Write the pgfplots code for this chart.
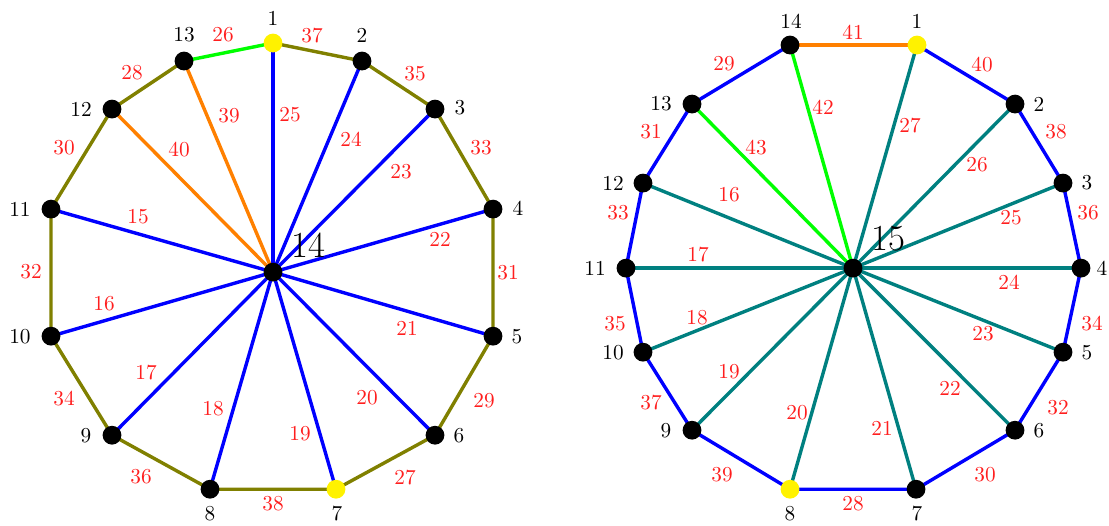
\documentclass[border=0pt]{standalone}
\usepackage{pgfplots}
\pgfplotsset{compat=1.18}
\definecolor{myolive}{RGB}{128,128,0}
\definecolor{myteal}{RGB}{0,128,128}
\definecolor{mygreen}{RGB}{0,255,0}
\definecolor{myorange}{RGB}{255,128,0}
\definecolor{myred}{RGB}{255,30,30}
\tikzset{el/.style={font=\normalsize, text=myred, inner sep=0pt},
  vl/.style={font=\normalsize, text=black, inner sep=0pt}}
\begin{document}
\begin{tikzpicture}
\begin{axis}[scale only axis, width=521pt, height=246.75pt,
  xmin=0, xmax=1109, ymin=0, ymax=525, y dir=reverse,
  hide axis, clip=false,
  every axis plot/.append style={line width=1.6pt}]
\path (rel axis cs:0,0) rectangle (rel axis cs:1,1);
% ---------- LEFT GRAPH (center 14) ----------
% spokes
\addplot[blue] coordinates {(273,272) (273,43)};
\addplot[blue] coordinates {(273,272) (362,61)};
\addplot[blue] coordinates {(273,272) (435,109)};
\addplot[blue] coordinates {(273,272) (493,209)};
\addplot[blue] coordinates {(273,272) (493,336)};
\addplot[blue] coordinates {(273,272) (435,435)};
\addplot[blue] coordinates {(273,272) (336,489)};
\addplot[blue] coordinates {(273,272) (210,489)};
\addplot[blue] coordinates {(273,272) (112,435)};
\addplot[blue] coordinates {(273,272) (51,336)};
\addplot[blue] coordinates {(273,272) (51,209)};
\addplot[myorange] coordinates {(273,272) (112,109)};
\addplot[myorange] coordinates {(273,272) (184,61)};
% rim
\addplot[myolive] coordinates {(273,43) (362,61) (435,109) (493,209) (493,336) (435,435) (336,489) (210,489) (112,435) (51,336) (51,209) (112,109) (184,61)};
\addplot[mygreen] coordinates {(184,61) (273,43)};
% vertices
\addplot[only marks, mark=*, mark size=3.6pt, black, mark options={fill=black, draw=black}] coordinates {(362,61) (435,109) (493,209) (493,336) (435,435) (210,489) (112,435) (51,336) (51,209) (112,109) (184,61) (273,272)};
\addplot[only marks, mark=*, mark size=3.6pt, yellow, mark options={fill=yellow, draw=yellow}] coordinates {(273,43) (336,489)};
% vertex labels
\node[vl] at (axis cs:273,18) {1};
\node[vl] at (axis cs:362,35) {2};
\node[vl] at (axis cs:460,108) {3};
\node[vl] at (axis cs:518,208) {4};
\node[vl] at (axis cs:517,336) {5};
\node[vl] at (axis cs:459,435) {6};
\node[vl] at (axis cs:337,513) {7};
\node[vl] at (axis cs:210,513) {8};
\node[vl] at (axis cs:86,435) {9};
\node[vl] at (axis cs:20,336) {10};
\node[vl] at (axis cs:20,209) {11};
\node[vl] at (axis cs:81,109) {12};
\node[vl] at (axis cs:184,35) {13};
\node[vl, font=\LARGE] at (axis cs:308,245) {14};
% edge labels
\node[el] at (axis cs:223,35) {26};
\node[el] at (axis cs:312,36) {37};
\node[el] at (axis cs:415,74) {35};
\node[el] at (axis cs:481,148) {33};
\node[el] at (axis cs:508,273) {31};
\node[el] at (axis cs:484,400) {29};
\node[el] at (axis cs:405,477) {27};
\node[el] at (axis cs:273,503) {38};
\node[el] at (axis cs:141,476) {36};
\node[el] at (axis cs:64,398) {34};
\node[el] at (axis cs:31,272) {32};
\node[el] at (axis cs:64,148) {30};
\node[el] at (axis cs:132,73) {28};
\node[el] at (axis cs:290,115) {25};
\node[el] at (axis cs:351,139) {24};
\node[el] at (axis cs:401,172) {23};
\node[el] at (axis cs:440,239) {22};
\node[el] at (axis cs:407,328) {21};
\node[el] at (axis cs:367,397) {20};
\node[el] at (axis cs:300,433) {19};
\node[el] at (axis cs:213,408) {18};
\node[el] at (axis cs:146,372) {17};
\node[el] at (axis cs:104,304) {16};
\node[el] at (axis cs:138,217) {15};
\node[el] at (axis cs:179,149) {40};
\node[el] at (axis cs:229,116) {39};
% ---------- RIGHT GRAPH (center 15) ----------
\addplot[myteal] coordinates {(853,268) (917,45)};
\addplot[myteal] coordinates {(853,268) (1015,104)};
\addplot[myteal] coordinates {(853,268) (1063,183)};
\addplot[myteal] coordinates {(853,268) (1081,268)};
\addplot[myteal] coordinates {(853,268) (1063,352)};
\addplot[myteal] coordinates {(853,268) (1015,430)};
\addplot[myteal] coordinates {(853,268) (916,489)};
\addplot[myteal] coordinates {(853,268) (790,489)};
\addplot[myteal] coordinates {(853,268) (692,430)};
\addplot[myteal] coordinates {(853,268) (643,352)};
\addplot[myteal] coordinates {(853,268) (626,268)};
\addplot[myteal] coordinates {(853,268) (643,183)};
\addplot[mygreen] coordinates {(853,268) (692,104)};
\addplot[mygreen] coordinates {(853,268) (790,45)};
\addplot[blue] coordinates {(917,45) (1015,104) (1063,183) (1081,268) (1063,352) (1015,430) (916,489) (790,489) (692,430) (643,352) (626,268) (643,183) (692,104) (790,45)};
\addplot[myorange] coordinates {(790,45) (917,45)};
\addplot[only marks, mark=*, mark size=3.6pt, black, mark options={fill=black, draw=black}] coordinates {(1015,104) (1063,183) (1081,268) (1063,352) (1015,430) (916,489) (692,430) (643,352) (626,268) (643,183) (692,104) (790,45) (853,268)};
\addplot[only marks, mark=*, mark size=3.6pt, yellow, mark options={fill=yellow, draw=yellow}] coordinates {(917,45) (790,489)};
\node[vl] at (axis cs:917,21) {1};
\node[vl] at (axis cs:1039,104) {2};
\node[vl] at (axis cs:1087,183) {3};
\node[vl] at (axis cs:1102,268) {4};
\node[vl] at (axis cs:1087,352) {5};
\node[vl] at (axis cs:1039,430) {6};
\node[vl] at (axis cs:917,513) {7};
\node[vl] at (axis cs:790,513) {8};
\node[vl] at (axis cs:666,430) {9};
\node[vl] at (axis cs:613,352) {10};
\node[vl] at (axis cs:595,268) {11};
\node[vl] at (axis cs:613,183) {12};
\node[vl] at (axis cs:661,104) {13};
\node[vl] at (axis cs:791,21) {14};
\node[vl, font=\LARGE] at (axis cs:888,239) {15};
\node[el] at (axis cs:853,32) {41};
\node[el] at (axis cs:982,64) {40};
\node[el] at (axis cs:1056,132) {38};
\node[el] at (axis cs:1088,213) {36};
\node[el] at (axis cs:1092,323) {34};
\node[el] at (axis cs:1058,407) {32};
\node[el] at (axis cs:985,474) {30};
\node[el] at (axis cs:853,503) {28};
\node[el] at (axis cs:722,474) {39};
\node[el] at (axis cs:651,402) {37};
\node[el] at (axis cs:615,323) {35};
\node[el] at (axis cs:618,213) {33};
\node[el] at (axis cs:651,132) {31};
\node[el] at (axis cs:724,64) {29};
\node[el] at (axis cs:910,125) {27};
\node[el] at (axis cs:977,165) {26};
\node[el] at (axis cs:1011,218) {25};
\node[el] at (axis cs:1009,282) {24};
\node[el] at (axis cs:983,333) {23};
\node[el] at (axis cs:950,388) {22};
\node[el] at (axis cs:882,428) {21};
\node[el] at (axis cs:797,412) {20};
\node[el] at (axis cs:729,371) {19};
\node[el] at (axis cs:697,317) {18};
\node[el] at (axis cs:698,254) {17};
\node[el] at (axis cs:729,195) {16};
\node[el] at (axis cs:823,107) {42};
\node[el] at (axis cs:756,147) {43};
\end{axis}
\end{tikzpicture}
\end{document}
